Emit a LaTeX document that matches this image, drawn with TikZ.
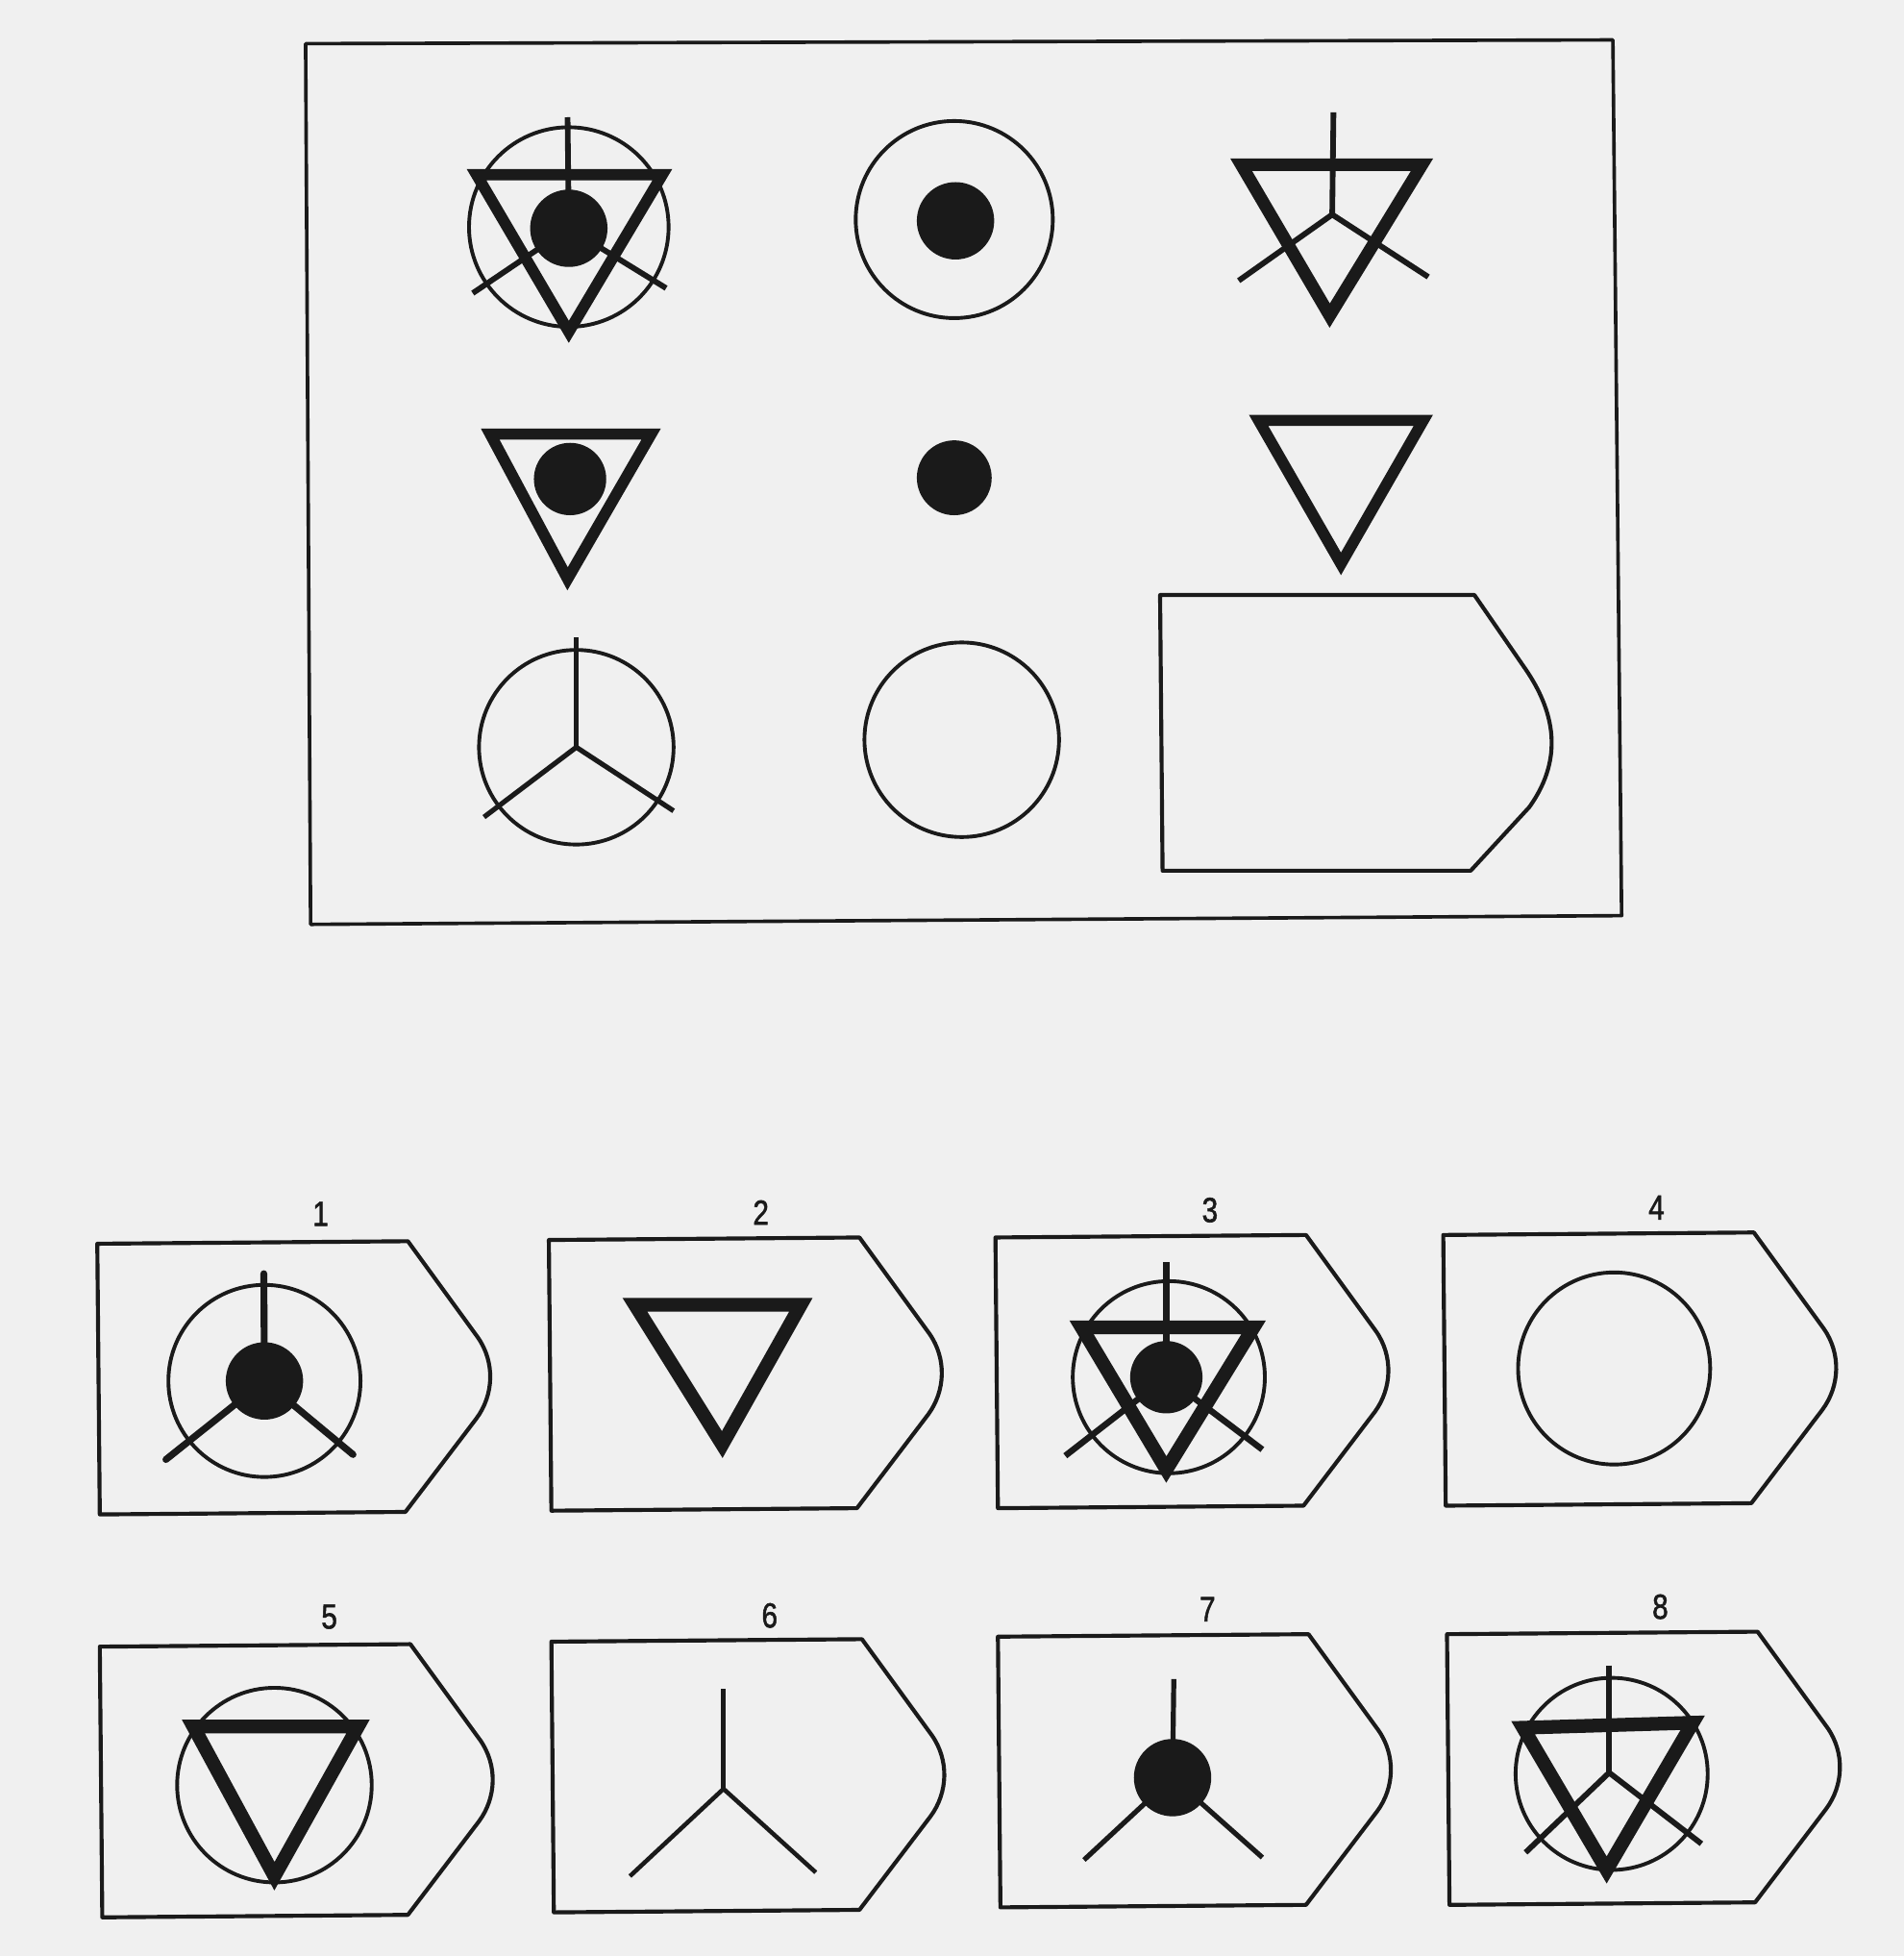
\documentclass[tikz,border=0pt]{standalone}
\usepackage{fontspec}
\setmainfont{Liberation Sans}
\newfontfamily\lblfont[FakeBold=1.6]{Liberation Sans}
\definecolor{bg}{RGB}{240,240,240}
\definecolor{ink}{RGB}{26,26,26}
\newcommand\ansframe[1]{\draw[frameline,shift={#1}] (0,0) -- (249,-2) -- (305,75) .. controls (319,95) and (318,121) .. (304,140) -- (247,215) -- (2,217) -- cycle;}
\newcommand\digit[1]{\scalebox{0.82}[1]{\lblfont #1}}
\begin{document}
\begin{tikzpicture}[x=1pt,y=-1pt,
  frameline/.style={draw=ink,line width=3.2pt,line join=round},
  circ/.style={draw=ink,line width=3pt},
  tri/.style={draw=ink,line width=9pt,line join=miter},
  stem/.style={draw=ink,line width=4.5pt},
  lbl/.style={font=\fontsize{28}{28}\selectfont,inner sep=0pt,text=ink}]
\fill[bg] (0,0) rectangle (1526,1568);
\useasboundingbox (0,0) rectangle (1526,1568);
% outer frame
\draw[frameline,line width=2.8pt] (245,35) -- (1293,32) -- (1300,734) -- (249,741) -- cycle;
% row 1
\draw[circ] (456,182) circle[radius=80pt];
\draw[tri] (382,140) -- (531,140) -- (456,266) -- cycle;
\draw[stem] (455,94) -- (456,183);
\draw[stem] (379,235) -- (456,183) -- (534,231);
\fill[ink] (456,183) circle[radius=31pt];
\draw[circ] (765,176) circle[radius=79pt];
\fill[ink] (766,177) circle[radius=31pt];
\draw[tri,line width=10pt] (995,132) -- (1140,132) -- (1066,253) -- cycle;
\draw[stem] (1069,90) -- (1068,172);
\draw[stem] (993,225) -- (1068,172) -- (1145,222);
% row 2
\draw[tri] (393,348) -- (522,348) -- (455,464) -- cycle;
\fill[ink] (457,384) circle[radius=29pt];
\fill[ink] (765,383) circle[radius=30pt];
\draw[tri] (1009,337) -- (1141,337) -- (1075,452) -- cycle;
% row 3
\draw[circ] (462,599) circle[radius=78pt];
\draw[stem,line width=4pt] (462,511) -- (462,599);
\draw[stem,line width=4pt] (388,655) -- (462,599) -- (540,650);
\draw[circ] (771,593) circle[radius=78pt];
\draw[frameline] (930,477) -- (1182,477) -- (1222,535) .. controls (1250,575) and (1251,612) .. (1226,647) -- (1179,698) -- (932,698) -- cycle;
% answers
\ansframe{(78,997)}
\ansframe{(440,994)}
\ansframe{(798,992)}
\ansframe{(1157,990)}
\ansframe{(80,1320)}
\ansframe{(442,1316)}
\ansframe{(800,1312)}
\ansframe{(1160,1310)}
\node[lbl] (l1) at (257,973) {\digit{1}};
\node[lbl] (l2) at (610,972) {\digit{2}};
\node[lbl] (l3) at (970,970) {\digit{3}};
\node[lbl] (l4) at (1328,968) {\digit{4}};
\node[lbl] (l5) at (264,1296) {\digit{5}};
\node[lbl] (l6) at (617,1295) {\digit{6}};
\node[lbl] (l7) at (968,1290) {\digit{7}};
\node[lbl] (l8) at (1331,1288) {\digit{8}};
% 1
\draw[circ] (212,1107) circle[radius=77pt];
\draw[stem,line width=5.5pt,line cap=round] (211.5,1021) -- (212,1107);
\draw[stem,line width=5.5pt,line cap=round] (133,1170) -- (212,1107) -- (283,1166);
\fill[ink] (212,1107) circle[radius=31pt];
% 2
\draw[tri,line width=11pt] (509,1046) -- (642,1046) -- (579,1158) -- cycle;
% 3
\draw[circ] (937,1104) circle[radius=77pt];
\draw[tri,line width=11pt] (867,1064) -- (1005,1064) -- (935,1178) -- cycle;
\draw[stem,line width=5pt] (935,1012) -- (935,1104);
\draw[stem,line width=5pt] (854,1167) -- (935,1104) -- (1012,1162);
\fill[ink] (935,1104) circle[radius=29pt];
% 4
\draw[circ] (1294,1097) circle[radius=77pt];
% 5
\draw[circ] (220,1431) circle[radius=78pt];
\draw[tri,line width=11pt] (155,1384) -- (287,1384) -- (220,1504) -- cycle;
% 6
\draw[stem,line width=3.5pt] (580,1354) -- (580,1434);
\draw[stem,line width=3.5pt] (505,1504) -- (580,1434) -- (654,1501);
% 7
\draw[stem,line width=4pt] (941,1346) -- (940,1425);
\draw[stem,line width=4pt] (869,1491) -- (940,1425) -- (1012,1489);
\fill[ink] (940,1425) circle[radius=31pt];
% 8
\draw[circ] (1292,1422) circle[radius=77pt];
\draw[tri,line width=11pt] (1221,1385) -- (1357,1381) -- (1288,1499) -- cycle;
\draw[stem] (1290,1335) -- (1290,1421);
\draw[stem] (1223,1485) -- (1290,1421) -- (1364,1478);
\end{tikzpicture}
\end{document}
